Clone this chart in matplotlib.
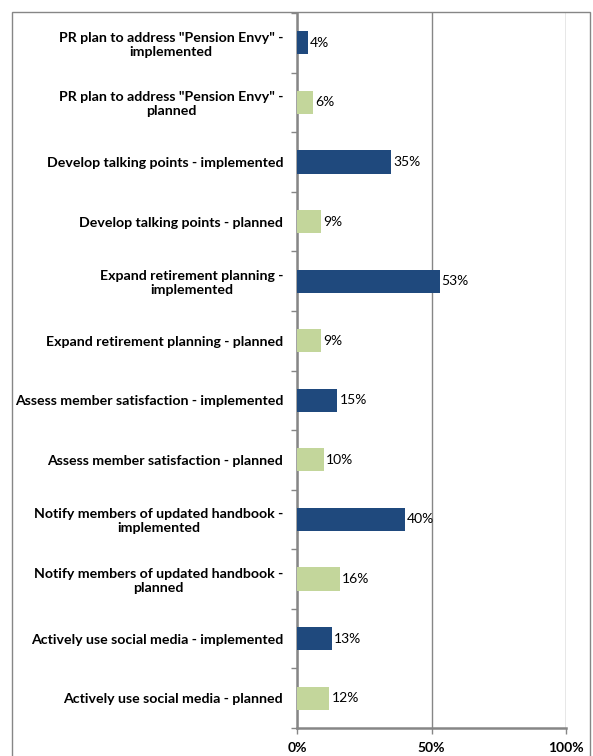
import matplotlib.pyplot as plt
from matplotlib.patches import Rectangle

# Datos del gráfico (de arriba hacia abajo)
categorias = [
    'PR plan to address "Pension Envy" -\nimplemented',
    'PR plan to address "Pension Envy" -\nplanned',
    'Develop talking points - implemented',
    'Develop talking points - planned',
    'Expand retirement planning -\nimplemented',
    'Expand retirement planning - planned',
    'Assess member satisfaction - implemented',
    'Assess member satisfaction - planned',
    'Notify members of updated handbook -\nimplemented',
    'Notify members of updated handbook -\nplanned',
    'Actively use social media - implemented',
    'Actively use social media - planned',
]
valores = [4, 6, 35, 9, 53, 9, 15, 10, 40, 16, 13, 12]
tipo = ['implemented', 'planned'] * 6

titulo = 'Communication Activities by Stage'

colores = {'implemented': '#1F497D', 'planned': '#C3D69B'}
gris = '#868686'

plt.rcParams['font.family'] = ['Lato', 'DejaVu Sans']

W, H = 593, 756
fig = plt.figure(figsize=(W / 100, H / 100), dpi=100)

# Borde exterior del gráfico
fig.patches.append(Rectangle((12 / W, -0.01), (590 - 12) / W, 1 - 12 / H + 0.01,
                             transform=fig.transFigure, fill=False,
                             edgecolor=gris, linewidth=1.0))

# Título: queda por encima del borde, sólo asoman los trazos bajos.
# Se mide el texto hasta la "y" de "by" para colocarla en x=313 px.
r = fig.canvas.get_renderer()
prefijo = fig.text(0, 0, titulo[:titulo.index('by') + 1],
                   fontsize=25, fontweight='bold')
ancho = prefijo.get_window_extent(r).width
prefijo.remove()
fig.text((313 - ancho) / W, 1 + 6 / H, titulo,
         ha='left', va='baseline', fontsize=25, fontweight='bold')

ax = fig.add_axes([297 / W, 1 - 728 / H, (566 - 297) / W, (728 - 13) / H])

pos = list(range(len(categorias)))
ax.barh(pos, valores, height=0.39,
        color=[colores[t] for t in tipo], zorder=3)

for p, v in zip(pos, valores):
    ax.annotate(f'{v}%', (v, p), xytext=(1.5, 0), textcoords='offset points',
                ha='left', va='center', fontsize=10)

ax.set_xlim(0, 100)
ax.set_ylim(len(categorias) - 0.5, -0.5)

ax.set_yticks(pos)
ax.set_yticklabels(categorias, fontweight='bold', fontsize=10.2,
                   multialignment='center')
ax.set_yticks([p + 0.5 for p in [-1] + pos], minor=True)
ax.tick_params(axis='y', which='major', length=0, pad=10)
ax.tick_params(axis='y', which='minor', length=4, color=gris, width=1)

ax.set_xticks([0, 50, 100])
ax.set_xticklabels(['0%', '50%', '100%'], fontweight='bold', fontsize=10)
ax.tick_params(axis='x', length=4, color=gris, width=1, pad=6)

ax.grid(axis='x', color=gris, linewidth=1, zorder=0)
for s in ['top', 'right']:
    ax.spines[s].set_visible(False)
for s in ['left', 'bottom']:
    ax.spines[s].set_color(gris)
    ax.spines[s].set_linewidth(1.8)

fig.savefig('out.png', dpi=100)
